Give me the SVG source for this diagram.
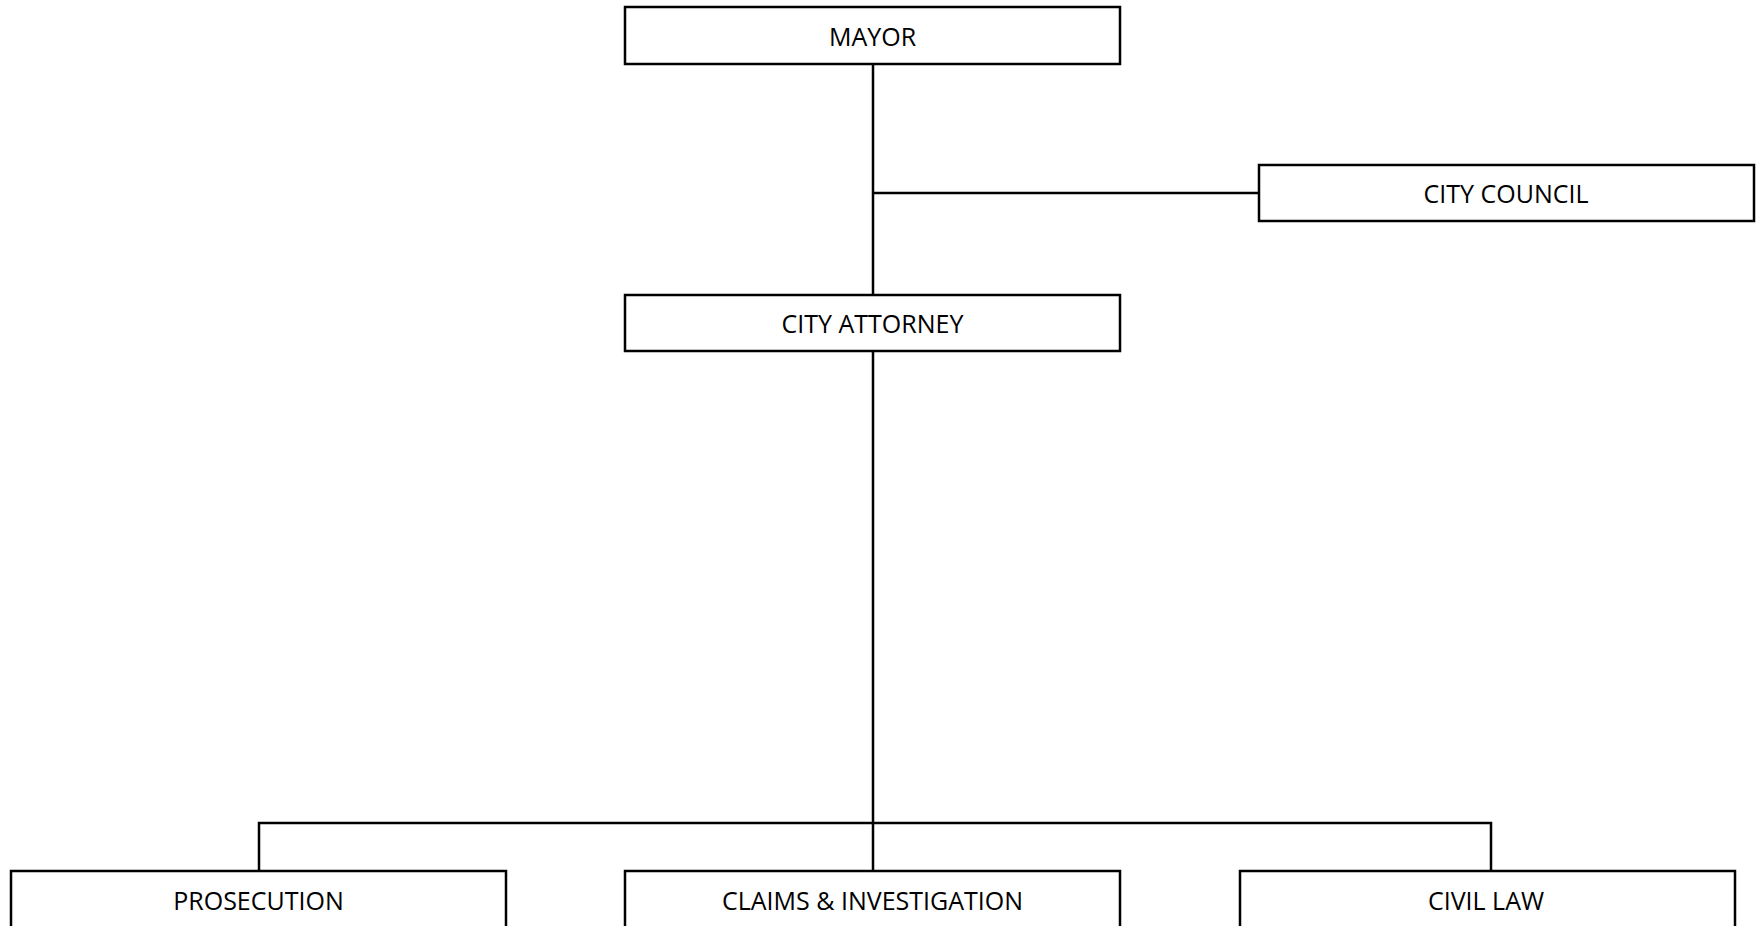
<svg xmlns="http://www.w3.org/2000/svg" width="1760" height="926" viewBox="0 0 1760 926">
<style>
.box{fill:#fff;stroke:#000;stroke-width:2.5}
.lbl{font-family:"Open Sans","Liberation Sans",sans-serif;font-size:25px;fill:#000;text-anchor:middle}
.con{fill:none;stroke:#000;stroke-width:2.5}
</style>
<rect width="1760" height="926" fill="#fff"/>
<g id="connectors">
<path class="con" d="M873 64V295"/>
<path class="con" d="M873 193H1259"/>
<path class="con" d="M873 351V871"/>
<path class="con" d="M259 871V823H1491V871"/>
</g>
<g id="mayor"><rect class="box" x="625" y="7" width="495" height="57"/><text class="lbl" x="872.5" y="45.5">MAYOR</text></g>
<g id="city-council"><rect class="box" x="1259" y="165" width="495" height="56"/><text class="lbl" x="1506" y="203.3">CITY COUNCIL</text></g>
<g id="city-attorney"><rect class="box" x="625" y="295" width="495" height="56"/><text class="lbl" x="872.5" y="333">CITY ATTORNEY</text></g>
<g id="prosecution"><rect class="box" x="11" y="871" width="495" height="57"/><text class="lbl" x="258.5" y="909.5">PROSECUTION</text></g>
<g id="claims-investigation"><rect class="box" x="625" y="871" width="495" height="57"/><text class="lbl" x="872.5" y="909.5">CLAIMS &amp; INVESTIGATION</text></g>
<g id="civil-law"><rect class="box" x="1240" y="871" width="495" height="57"/><text class="lbl" x="1486" y="909.5">CIVIL LAW</text></g>
</svg>
